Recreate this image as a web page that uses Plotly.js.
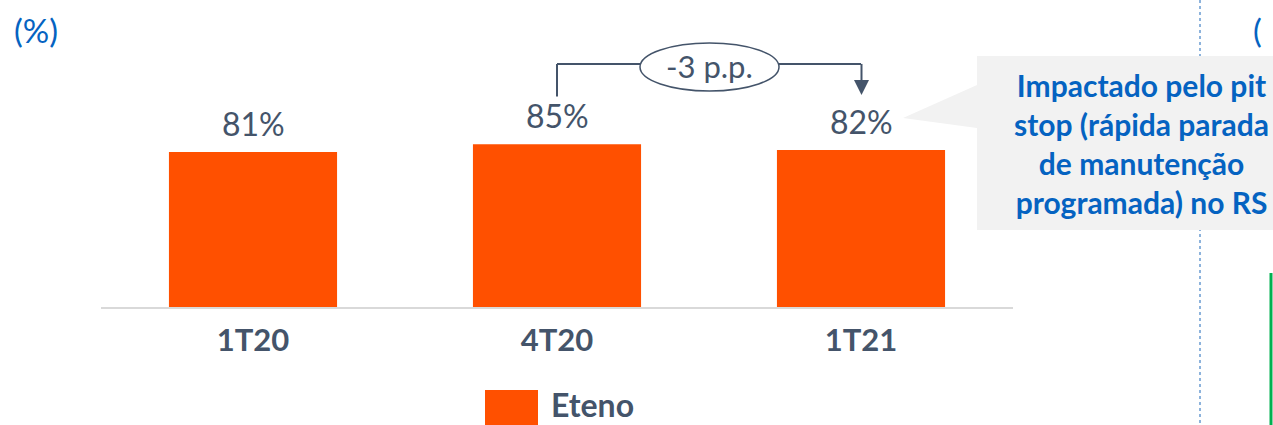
<!DOCTYPE html>
<html><head><meta charset="utf-8">
<script src="https://cdn.plot.ly/plotly-3.0.1.min.js"></script>
<style>html,body{margin:0;padding:0;background:#fff}#c{width:1273px;height:425px}</style>
</head><body><div id="c"></div>
<script>
const categories = ['1T20', '4T20', '1T21'];
const values = [81, 85, 82];
const seriesName = 'Eteno';
const deltaLabel = '-3 p.p.';
const calloutText = 'Impactado pelo pit<br>stop (rápida parada<br>de manutenção<br>programada) no RS';

const FONT = 'Lato, "Open Sans", sans-serif';
const SLATE = '#44546A';
const BLUE = '#0563C1';
const ORANGE = '#FF5000';

const W = 1273, H = 425;
const L = 101, R = 260, T = 0, B = 118;
const pw = W - L - R, ph = H - T - B;
const ymax = 160.4;
const px = p => (p - L) / pw;
const py = p => (H - B - p) / ph;

const bar = {
  type: 'bar', x: categories, y: values, name: seriesName,
  marker: {color: ORANGE}, width: 0.553, showlegend: false, hoverinfo: 'skip'
};

const annotations = values.map((v, i) => ({
  x: categories[i], y: v, xref: 'x', yref: 'y', text: v + '%', showarrow: false,
  xanchor: 'center', yanchor: 'bottom', yshift: 7, font: {family: FONT, size: 32, color: SLATE}
}));

const i1 = 1, i2 = 2;
const yTop = 127;
const yStart = values[i1] + 25;
const shapes = [
  {type: 'line', xref: 'x', yref: 'y', x0: i1, x1: i1, y0: yStart, y1: yTop, line: {color: SLATE, width: 2}},
  {type: 'line', xref: 'x', yref: 'y', x0: i1, x1: i2, y0: yTop, y1: yTop, line: {color: SLATE, width: 2}},
  {type: 'line', xref: 'paper', yref: 'y', x0: px(861.5), x1: px(861.5), y0: yTop, y1: (307 - 81) / 1.914, line: {color: SLATE, width: 2}},
  {type: 'path', xref: 'paper', yref: 'paper',
   path: `M ${px(854)} ${py(80)} L ${px(869)} ${py(80)} L ${px(861.5)} ${py(95)} Z`,
   fillcolor: SLATE, line: {width: 0}},
  {type: 'circle', xref: 'paper', yref: 'paper', x0: px(640), x1: px(779), y0: py(43), y1: py(91),
   fillcolor: '#FFFFFF', line: {color: SLATE, width: 1.5}},
  {type: 'line', xref: 'paper', yref: 'paper', x0: px(1200), x1: px(1200), y0: py(0), y1: py(425),
   line: {color: '#8DB3DC', width: 2, dash: 'dot'}},
  {type: 'path', xref: 'paper', yref: 'paper',
   path: `M ${px(977)} ${py(56)} L ${px(1273)} ${py(56)} L ${px(1273)} ${py(230)} L ${px(977)} ${py(230)} L ${px(977)} ${py(128)} L ${px(903)} ${py(118)} L ${px(977)} ${py(85)} Z`,
   fillcolor: '#F2F2F2', line: {width: 0}},
  {type: 'line', xref: 'paper', yref: 'paper', x0: px(1271), x1: px(1271), y0: py(273), y1: py(425),
   line: {color: '#00B050', width: 3}},
  {type: 'rect', xref: 'paper', yref: 'paper', x0: px(485), x1: px(538), y0: py(390), y1: py(426),
   fillcolor: ORANGE, line: {width: 0}}
];

annotations.push(
  {x: px(709.5), y: py(66), xref: 'paper', yref: 'paper', text: deltaLabel, showarrow: false,
   xanchor: 'center', yanchor: 'middle', font: {family: FONT, size: 31, color: SLATE}},
  {x: px(1141), y: py(143), xref: 'paper', yref: 'paper', text: calloutText, showarrow: false,
   xanchor: 'center', yanchor: 'middle', align: 'center',
   font: {family: FONT, size: 30, color: BLUE, weight: 'bold'}},
  {x: px(36), y: py(30), xref: 'paper', yref: 'paper', text: '(%)', showarrow: false,
   xanchor: 'center', yanchor: 'middle', font: {family: FONT, size: 33, color: BLUE}},
  {x: px(1257), y: py(30), xref: 'paper', yref: 'paper', text: '(', showarrow: false,
   xanchor: 'center', yanchor: 'middle', font: {family: FONT, size: 33, color: BLUE}},
  {x: px(549), y: py(425), xref: 'paper', yref: 'paper', text: seriesName, showarrow: false,
   xanchor: 'left', yanchor: 'bottom', yshift: -1, font: {family: FONT, size: 32, color: SLATE, weight: 'bold'}}
);

const layout = {
  width: W, height: H,
  margin: {l: L, r: R, t: T, b: B},
  paper_bgcolor: '#FFFFFF', plot_bgcolor: '#FFFFFF',
  showlegend: false,
  xaxis: {
    type: 'category', range: [-0.5, 2.5], showline: true, linecolor: '#D9D9D9', linewidth: 2,
    showgrid: false, ticks: '', ticklabelstandoff: 5,
    tickfont: {family: FONT, size: 31, color: SLATE, weight: 'bold'}, fixedrange: true
  },
  yaxis: {range: [0, ymax], visible: false, showgrid: false, zeroline: false, fixedrange: true},
  shapes: shapes,
  annotations: annotations
};

Plotly.newPlot('c', [bar], layout, {displayModeBar: false, staticPlot: true});
</script></body></html>
